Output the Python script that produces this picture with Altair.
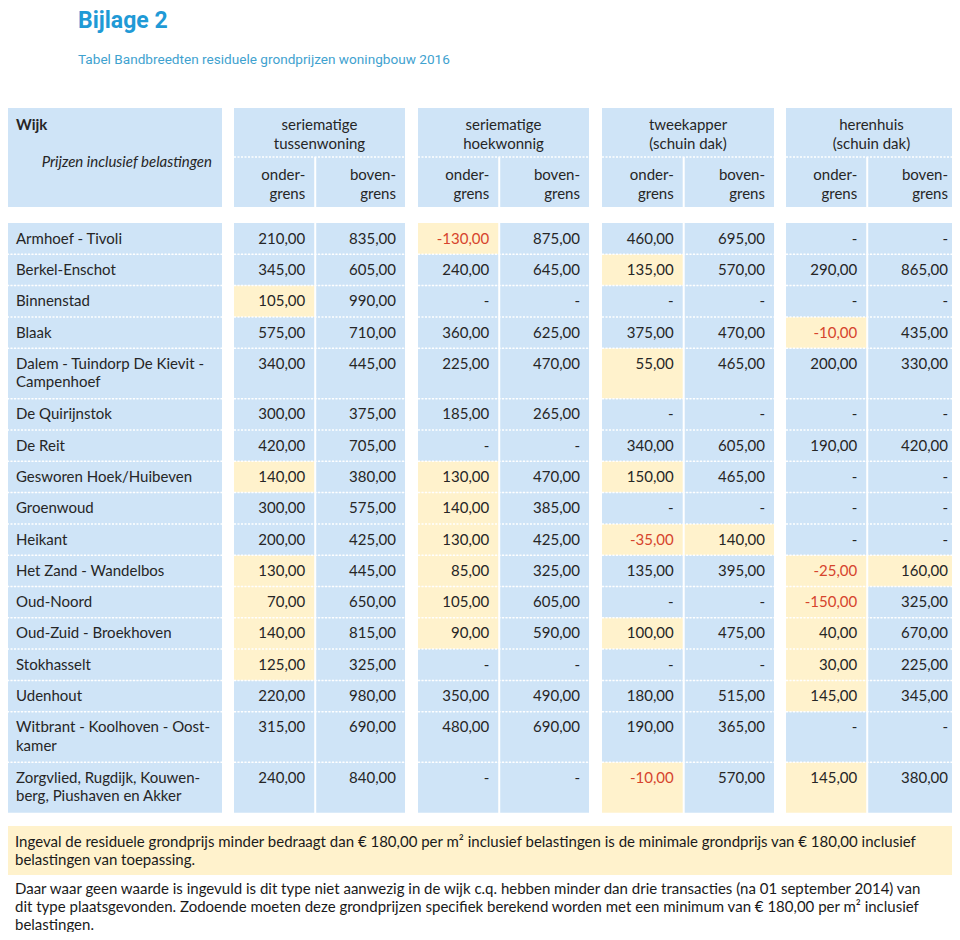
import altair as alt
import pandas as pd

# ---------------- data ----------------
titel = "Bijlage 2"
ondertitel = "Tabel Bandbreedten residuele grondprijzen woningbouw 2016"

kop_wijk = "Wijk"
kop_prijzen = "Prijzen inclusief belastingen"
woningtypen = [["seriematige", "tussenwoning"], ["seriematige", "hoekwonnig"],
               ["tweekapper", "(schuin dak)"], ["herenhuis", "(schuin dak)"]]
grenzen = [["onder-", "grens"], ["boven-", "grens"]]

wijken = [
    ["Armhoef - Tivoli"],
    ["Berkel-Enschot"],
    ["Binnenstad"],
    ["Blaak"],
    ["Dalem - Tuindorp De Kievit -", "Campenhoef"],
    ["De Quirijnstok"],
    ["De Reit"],
    ["Gesworen Hoek/Huibeven"],
    ["Groenwoud"],
    ["Heikant"],
    ["Het Zand - Wandelbos"],
    ["Oud-Noord"],
    ["Oud-Zuid - Broekhoven"],
    ["Stokhasselt"],
    ["Udenhout"],
    ["Witbrant - Koolhoven - Oost-", "kamer"],
    ["Zorgvlied, Rugdijk, Kouwen-", "berg, Piushaven en Akker"],
]

tussen_onder = [210, 345, 105, 575, 340, 300, 420, 140, 300, 200, 130, 70, 140, 125, 220, 315, 240]
tussen_boven = [835, 605, 990, 710, 445, 375, 705, 380, 575, 425, 445, 650, 815, 325, 980, 690, 840]
hoek_onder = [-130, 240, None, 360, 225, 185, None, 130, 140, 130, 85, 105, 90, None, 350, 480, None]
hoek_boven = [875, 645, None, 625, 470, 265, None, 470, 385, 425, 325, 605, 590, None, 490, 690, None]
twee_onder = [460, 135, None, 375, 55, None, 340, 150, None, -35, 135, None, 100, None, 180, 190, -10]
twee_boven = [695, 570, None, 470, 465, None, 605, 465, None, 140, 395, None, 475, None, 515, 365, 570]
heren_onder = [None, 290, None, -10, 200, None, 190, None, None, None, -25, -150, 40, 30, 145, None, 145]
heren_boven = [None, 865, None, 435, 330, None, 420, None, None, None, 160, 325, 670, 225, 345, None, 380]
kolommen = [tussen_onder, tussen_boven, hoek_onder, hoek_boven,
            twee_onder, twee_boven, heren_onder, heren_boven]

# rows (0-based) whose cell is highlighted yellow, per column
gemarkeerd = [
    [2, 7, 10, 11, 12, 13],
    [],
    [0, 7, 8, 9, 10, 11, 12],
    [],
    [1, 4, 7, 9, 12, 16],
    [9],
    [3, 10, 11, 12, 13, 14, 16],
    [10],
]

voetnoot_1 = ["Ingeval de residuele grondprijs minder bedraagt dan € 180,00 per m² inclusief belastingen is de minimale grondprijs van € 180,00 inclusief",
              "belastingen van toepassing."]
voetnoot_2 = ["Daar waar geen waarde is ingevuld is dit type niet aanwezig in de wijk c.q. hebben minder dan drie transacties (na 01 september 2014) van",
              "dit type plaatsgevonden. Zodoende moeten deze grondprijzen specifiek berekend worden met een minimum van € 180,00 per m² inclusief",
              "belastingen."]

# ---------------- layout ----------------
BLAUW = "#cfe4f7"
GEEL = "#fff2cc"
TEKST = "#262626"
ROOD = "#d6442c"
TITELBLAUW = "#1f9ad6"
FONT = "Lato, 'Open Sans', sans-serif"
KOPFONT = "Roboto, 'Liberation Sans', sans-serif"
FS = 15

wijk_x = (7, 222)
groep_x = [(234, 405), (418, 589), (602, 774), (786, 957)]
sub_x = []
for g0, g1 in groep_x:
    mid = g0 + (g1 - g0) * 0.475
    sub_x.append((g0, mid - 1))
    sub_x.append((mid + 1, g1))

kop_top, kop_mid, kop_bot = 108, 157, 207
rij_top0 = 223
h1, h2 = 31.3, 50.5
lijn = 18.5
pad_r = 9

rij_top = []
t = rij_top0
for w in wijken:
    rij_top.append(t)
    t += h1 if len(w) == 1 else h2
tabel_bot = t

rects, rules = [], []
# header
rects.append(dict(x0=wijk_x[0], x1=wijk_x[1], y0=kop_top, y1=kop_bot, kleur=BLAUW))
for g0, g1 in groep_x:
    rects.append(dict(x0=g0, x1=g1, y0=kop_top, y1=kop_mid, kleur=BLAUW))
    rules.append(dict(x0=g0, x1=g1, y=kop_mid))
for s0, s1 in sub_x:
    rects.append(dict(x0=s0, x1=s1, y0=kop_mid, y1=kop_bot, kleur=BLAUW))
# body
for r, w in enumerate(wijken):
    y0 = rij_top[r]
    y1 = rij_top[r + 1] if r + 1 < len(wijken) else tabel_bot
    rects.append(dict(x0=wijk_x[0], x1=wijk_x[1], y0=y0, y1=y1, kleur=BLAUW))
    for c, (s0, s1) in enumerate(sub_x):
        kl = GEEL if r in gemarkeerd[c] else BLAUW
        rects.append(dict(x0=s0, x1=s1, y0=y0, y1=y1, kleur=kl))
    if r > 0:
        rules.append(dict(x0=wijk_x[0], x1=wijk_x[1], y=y0))
        for g0, g1 in groep_x:
            rules.append(dict(x0=g0, x1=g1, y=y0))
# footer box
voet_top, voet_bot = 826, 875
rects.append(dict(x0=7, x1=957, y0=voet_top, y1=voet_bot, kleur=GEEL))

rects_df = pd.DataFrame(rects)
rules_df = pd.DataFrame(rules)

# texts
groep_tekst = []
for g, (g0, g1) in enumerate(groep_x):
    for i, s in enumerate(woningtypen[g]):
        groep_tekst.append(dict(x=(g0 + g1) / 2, y=125 + i * lijn, t=s))
sub_tekst = []
for c, (s0, s1) in enumerate(sub_x):
    for i, s in enumerate(grenzen[c % 2]):
        sub_tekst.append(dict(x=s1 - pad_r, y=175 + i * lijn, t=s))
wijk_tekst = []
for r, w in enumerate(wijken):
    for i, s in enumerate(w):
        wijk_tekst.append(dict(x=16, y=rij_top[r] + 15.6 + i * lijn, t=s))
getallen = []
for c, (s0, s1) in enumerate(sub_x):
    for r, v in enumerate(kolommen[c]):
        if v is None:
            s, kl = "-", TEKST
        else:
            s = f"{v:.2f}".replace(".", ",")
            kl = ROOD if v < 0 else TEKST
        getallen.append(dict(x=s1 - pad_r, y=rij_top[r] + 15.6, t=s, kleur=kl))
voet_tekst = []
for i, s in enumerate(voetnoot_1):
    voet_tekst.append(dict(x=15, y=842 + i * 17.5, t=s))
for i, s in enumerate(voetnoot_2):
    voet_tekst.append(dict(x=15, y=889 + i * 17.8, t=s))

X = alt.Scale(domain=[8, 952], nice=False, zero=False)
Y = alt.Scale(domain=[8, 932], nice=False, zero=False, reverse=True)


def tekstlaag(rows, **kw):
    base = dict(baseline="middle", font=FONT, fontSize=FS, color=TEKST)
    base.update(kw)
    return alt.Chart(pd.DataFrame(rows)).mark_text(**base).encode(
        x=alt.X("x:Q", scale=X, axis=None),
        y=alt.Y("y:Q", scale=Y, axis=None),
        text="t:N",
    )


laag_rect = alt.Chart(rects_df).mark_rect(strokeWidth=0).encode(
    x=alt.X("x0:Q", scale=X, axis=None), x2="x1:Q",
    y=alt.Y("y0:Q", scale=Y, axis=None), y2="y1:Q",
    fill=alt.Fill("kleur:N", scale=None),
)
laag_rule = alt.Chart(rules_df).mark_rule(color="white", strokeDash=[2, 1.5], strokeWidth=1.5).encode(
    x=alt.X("x0:Q", scale=X, axis=None), x2="x1:Q",
    y=alt.Y("y:Q", scale=Y, axis=None),
)

laag_titel = tekstlaag([dict(x=78, y=28, t=titel)], align="left", baseline="alphabetic",
                       font=KOPFONT, fontSize=23, fontWeight="bold", color=TITELBLAUW)
laag_sub = tekstlaag([dict(x=78, y=60, t=ondertitel)], align="left", font=KOPFONT,
                     fontSize=13.6, color="#3fa2cf")
laag_wijkkop = tekstlaag([dict(x=16, y=125, t=kop_wijk)], align="left", fontWeight="bold")
laag_prijzen = tekstlaag([dict(x=212, y=162, t=kop_prijzen)], align="right", fontStyle="italic")
laag_groep = tekstlaag(groep_tekst, align="center")
laag_grens = tekstlaag(sub_tekst, align="right")
laag_wijk = tekstlaag(wijk_tekst, align="left")
laag_getal = alt.Chart(pd.DataFrame(getallen)).mark_text(
    align="right", baseline="middle", font=FONT, fontSize=FS).encode(
    x=alt.X("x:Q", scale=X, axis=None),
    y=alt.Y("y:Q", scale=Y, axis=None),
    text="t:N",
    color=alt.Color("kleur:N", scale=None),
)
laag_voet = tekstlaag(voet_tekst, align="left", fontSize=15, color="#1a1a1a")

chart = alt.layer(
    laag_rect, laag_rule, laag_titel, laag_sub, laag_wijkkop, laag_prijzen,
    laag_groep, laag_grens, laag_wijk, laag_getal, laag_voet,
).properties(
    width=944, height=924, padding=0, autosize="none", background="white",
).configure_view(stroke=None)

chart.save("out.html", embed_options={"renderer": "svg", "actions": False})
